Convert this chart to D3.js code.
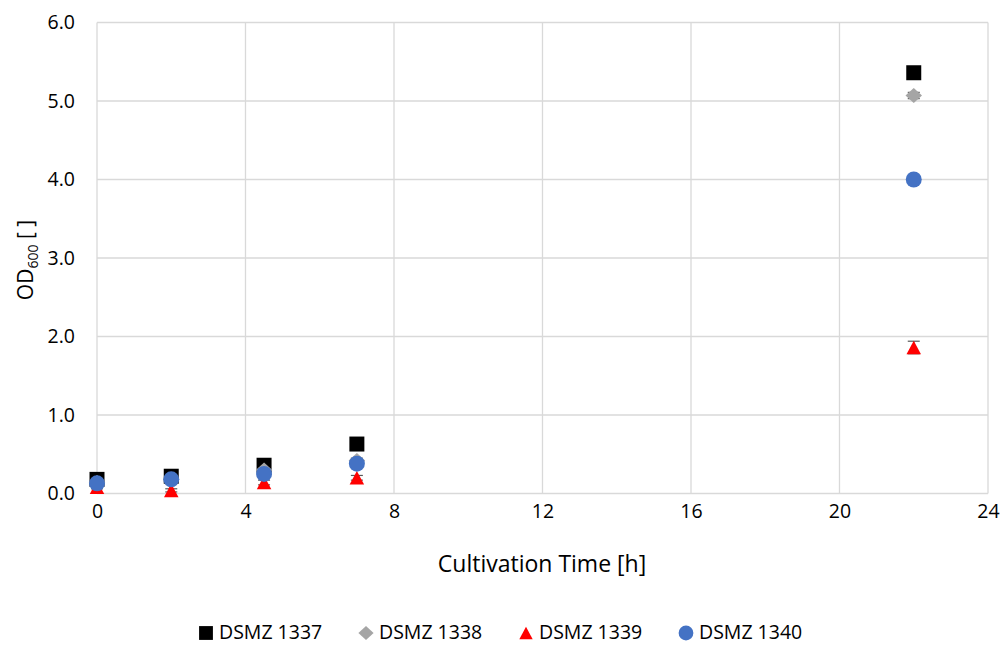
<!DOCTYPE html>
<html>
<head>
<meta charset="utf-8">
<script src="https://cdn.jsdelivr.net/npm/d3@7"></script>
<style>
  body { margin: 0; background: #fff; }
  svg { display: block; font-family: "Open Sans", sans-serif; }
</style>
</head>
<body>
<svg id="chart" width="1002" height="645"></svg>
<script>
// Sampling times (h)
const times = [0, 2, 4.5, 7, 22];

// OD600 per strain, with standard deviations
const series = ["DSMZ 1337", "DSMZ 1338", "DSMZ 1339", "DSMZ 1340"];
const od1337 = [0.18, 0.22, 0.36, 0.63, 5.36];
const sd1337 = [0.02, 0.02, 0.03, 0.03, 0.05];
const od1338 = [0.14, 0.18, 0.30, 0.42, 5.07];
const sd1338 = [0.01, 0.02, 0.02, 0.03, 0.04];
const od1339 = [0.08, 0.04, 0.14, 0.20, 1.86];
const sd1339 = [0.02, 0.02, 0.03, 0.03, 0.08];
const od1340 = [0.13, 0.18, 0.25, 0.38, 4.00];
const sd1340 = [0.01, 0.02, 0.02, 0.03, 0.03];

const xTicks = [0, 4, 8, 12, 16, 20, 24];
const yTicks = [0, 1, 2, 3, 4, 5, 6];

// Marker shapes centred on their bounding box
const square = { draw(c, s) { const h = Math.sqrt(s) / 2; c.rect(-h, -h, 2 * h, 2 * h); } };
const diamond = { draw(c, s) { const w = Math.sqrt(s) * 0.55, h = Math.sqrt(s) * 0.5;
  c.moveTo(0, -h); c.lineTo(w, 0); c.lineTo(0, h); c.lineTo(-w, 0); c.closePath(); } };
const triangle = { draw(c, s) { const w = Math.sqrt(s) * 0.5, h = Math.sqrt(s) * 0.47;
  c.moveTo(0, -h); c.lineTo(w, h); c.lineTo(-w, h); c.closePath(); } };
const circle = { draw(c, s) { const r = Math.sqrt(s) / 2; c.moveTo(r, 0); c.arc(0, 0, r, 0, 2 * Math.PI); } };

const colors = ["#000000", "#a5a5a5", "#ff0000", "#4472c4"];
const shapes = [square, diamond, triangle, circle];
const sizes = [225, 225, 210, 256];
const values = [od1337, od1338, od1339, od1340];
const errors = [sd1337, sd1338, sd1339, sd1340];

const svg = d3.select("#chart");
const m = { left: 97, right: 988, top: 22.5, bottom: 493.5 };

const x = d3.scaleLinear().domain([0, 24]).range([m.left, m.right]);
const y = d3.scaleLinear().domain([0, 6]).range([m.bottom, m.top]);

// Gridlines
const grid = svg.append("g");
grid.selectAll(".gx").data(xTicks).join("line")
  .attr("x1", d => x(d)).attr("x2", d => x(d))
  .attr("y1", m.top).attr("y2", m.bottom)
  .attr("stroke", "#d9d9d9").attr("stroke-width", 1.3);
grid.selectAll(".gy").data(yTicks).join("line")
  .attr("x1", m.left).attr("x2", m.right)
  .attr("y1", d => y(d)).attr("y2", d => y(d))
  .attr("stroke", "#d9d9d9").attr("stroke-width", 1.3);

// Axes (labels only)
const xAxis = svg.append("g").attr("transform", `translate(0,${m.bottom})`)
  .call(d3.axisBottom(x).tickValues(xTicks).tickSize(0).tickPadding(11).tickFormat(d3.format("d")));
xAxis.select(".domain").remove();
xAxis.selectAll("text").attr("font-size", 19.5).attr("fill", "#000").attr("font-family", "Open Sans, sans-serif");

const yAxis = svg.append("g").attr("transform", `translate(${m.left},0)`)
  .call(d3.axisLeft(y).tickValues(yTicks).tickSize(0).tickPadding(22).tickFormat(d3.format(".1f")));
yAxis.select(".domain").remove();
yAxis.selectAll("text").attr("font-size", 19.5).attr("fill", "#000").attr("font-family", "Open Sans, sans-serif");

// Axis titles
svg.append("text").attr("x", 542).attr("y", 572)
  .attr("text-anchor", "middle").attr("font-size", 23).text("Cultivation Time [h]");

const yt = svg.append("text").attr("transform", `translate(33,260) rotate(-90)`)
  .attr("text-anchor", "middle").attr("font-size", 21);
yt.append("tspan").text("OD");
yt.append("tspan").attr("font-size", 14).attr("dy", 5).text("600");
yt.append("tspan").attr("dy", -5).text(" [ ]");

// Data: error bars then markers
const plot = svg.append("g");
series.forEach((name, i) => {
  const pts = times.map((t, j) => ({ t, v: values[i][j], e: errors[i][j] }));
  const eb = plot.append("g");
  eb.selectAll("line.bar").data(pts).join("line").attr("class", "bar")
    .attr("x1", d => x(d.t)).attr("x2", d => x(d.t))
    .attr("y1", d => y(d.v - d.e)).attr("y2", d => y(d.v + d.e))
    .attr("stroke", "#595959").attr("stroke-width", 1.2);
  [1, -1].forEach((s, k) => {
    eb.selectAll("line.cap" + k).data(pts).join("line").attr("class", "cap" + k)
      .attr("x1", d => x(d.t) - 6).attr("x2", d => x(d.t) + 6)
      .attr("y1", d => y(d.v + s * d.e))
      .attr("y2", d => y(d.v + s * d.e))
      .attr("stroke", "#595959").attr("stroke-width", 1.2);
  });
  plot.append("g").selectAll("path").data(pts).join("path")
    .attr("transform", d => `translate(${x(d.t)},${y(d.v)})`)
    .attr("d", d3.symbol().type(shapes[i]).size(sizes[i]))
    .attr("fill", colors[i]);
});

// Legend
const legendX = [206, 366, 526, 686];
const lg = svg.append("g");
series.forEach((name, i) => {
  lg.append("path")
    .attr("transform", `translate(${legendX[i]},${633})`)
    .attr("d", d3.symbol().type(shapes[i]).size(sizes[i] * 0.85))
    .attr("fill", colors[i]);
  lg.append("text").attr("x", legendX[i] + 13).attr("y", 639)
    .attr("font-size", 19.5).text(name);
});
</script>
</body>
</html>
